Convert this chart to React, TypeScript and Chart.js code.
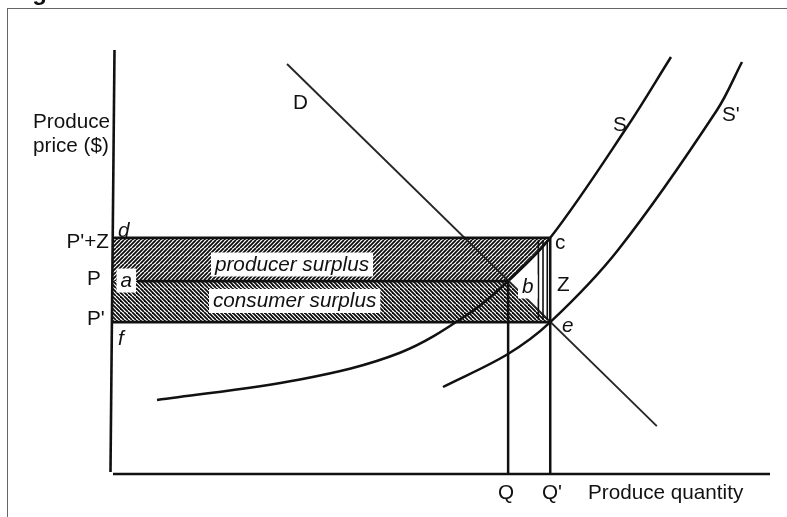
import React, { useEffect, useRef } from 'react';
import { Chart, registerables } from 'chart.js';

Chart.register(...registerables);

// ---- Data (abstract units: quantity 0..100 along the x-axis, price 0..100 along the y-axis) ----
const priceLevels = [55.7, 45.5, 35.8]; // P'+Z, P, P'
const quantityLevels = [60.2, 66.6]; // Q, Q'
const priceTickLabels = ["P'+Z", 'P', "P'"];
const quantityTickLabels = ['Q', "Q'"];

const demandD = [
  { x: 26.6, y: 96.7 },
  { x: 82.8, y: 11.3 },
];
const supplyS = [
  { x: 6.84, y: 17.45 },
  { x: 28.57, y: 22.3 },
  { x: 43.77, y: 28.6 },
  { x: 54.4, y: 38.0 },
  { x: 60.2, y: 45.5 },
  { x: 66.6, y: 55.7 },
  { x: 78.27, y: 81.84 },
  { x: 84.95, y: 98.35 },
];
const supplyS2 = [
  { x: 50.3, y: 20.52 },
  { x: 60.18, y: 28.3 },
  { x: 66.6, y: 35.8 },
  { x: 76.9, y: 52.83 },
  { x: 91.95, y: 85.85 },
  { x: 95.74, y: 97.17 },
];
const zStripQuantities = [64.8, 65.5, 66.15];
const priceAxisEnds = [
  { x: 0.38, y: 100 },
  { x: -0.23, y: 0.47 },
];
const quantityAxisEnds = [
  { x: 0.15, y: 0 },
  { x: 100, y: 0 },
];
const pLineStart = 3.8;

// ---- Text annotations (anchored in data units, alphabetic baseline) ----
const annotations = [
  { text: 'Produce', x: -12.0, y: 81.6 },
  { text: 'price ($)', x: -12.0, y: 75.83 },
  { text: priceTickLabels[0], x: -0.46, y: 53.3, align: 'right' },
  { text: priceTickLabels[1], x: -3.8, y: 44.58 },
  { text: priceTickLabels[2], x: -3.8, y: 35.14 },
  { text: 'd', x: 0.91, y: 55.9, italic: true },
  { text: 'a', x: 1.3, y: 44.1, italic: true, box: true },
  { text: 'f', x: 0.91, y: 30.42, italic: true },
  { text: 'c', x: 67.33, y: 53.07 },
  { text: 'b', x: 62.31, y: 42.69, italic: true, box: true },
  { text: 'Z', x: 67.63, y: 43.16 },
  { text: 'e', x: 68.39, y: 33.49, italic: true },
  { text: 'producer surplus', x: 15.65, y: 47.88, italic: true, box: true },
  { text: 'consumer surplus', x: 15.35, y: 39.27, italic: true, box: true },
  { text: 'S', x: 76.14, y: 80.9 },
  { text: "S'", x: 92.71, y: 83.25 },
  { text: 'D', x: 27.51, y: 86.08 },
  { text: quantityTickLabels[0], x: 58.66, y: -6.01 },
  { text: quantityTickLabels[1], x: 65.35, y: -6.01 },
  { text: 'Produce quantity', x: 72.34, y: -6.01 },
];

const FONT = '"Liberation Sans", Arial, Helvetica, sans-serif';

export default function App() {
  const ref = useRef<HTMLCanvasElement>(null);

  useEffect(() => {
    document.body.style.margin = '0';
    document.body.style.overflow = 'hidden';
    const canvas = ref.current!;
    const mainCtx = canvas.getContext('2d')!;

    const hatch = (dir: number) => {
      const t = document.createElement('canvas');
      t.width = 8;
      t.height = 8;
      const c = t.getContext('2d')!;
      c.fillStyle = '#ffffff';
      c.fillRect(0, 0, 8, 8);
      c.strokeStyle = '#0a0a0a';
      c.lineWidth = 1.75;
      for (let k = -16; k <= 16; k += 4) {
        c.beginPath();
        if (dir === 1) {
          c.moveTo(k, 8);
          c.lineTo(k + 8, 0);
        } else {
          c.moveTo(k, 0);
          c.lineTo(k + 8, 8);
        }
        c.stroke();
      }
      return mainCtx.createPattern(t, 'repeat')!;
    };

    const [pz, p, pp] = priceLevels;
    const [q, q2] = quantityLevels;

    const line = (data: any[], opts: any = {}) => ({
      data,
      showLine: true,
      pointRadius: 0,
      pointHoverRadius: 0,
      borderColor: '#111111',
      borderWidth: 2.5,
      tension: 0,
      fill: false,
      ...opts,
    });

    const datasets: any[] = [
      // upper hatched band (producer surplus)
      line([{ x: 0, y: pz }, { x: q2, y: pz }], { borderWidth: 0, fill: '+1', backgroundColor: hatch(1) }),
      line([{ x: 0, y: p }, { x: q, y: p }, { x: q2, y: pz }], { borderWidth: 0 }),
      // lower hatched band (consumer surplus)
      line([{ x: 0, y: p }, { x: q, y: p }, { x: q2, y: pp }], { borderWidth: 0, fill: '+1', backgroundColor: hatch(-1) }),
      line([{ x: 0, y: pp }, { x: q2, y: pp }], { borderWidth: 0 }),
      // axes
      line(priceAxisEnds, { borderWidth: 2.6 }),
      line(quantityAxisEnds, { borderWidth: 2.6 }),
      // rectangle edges and price lines
      line([{ x: 0, y: pz }, { x: q2, y: pz }], { borderWidth: 2.8 }),
      line([{ x: pLineStart, y: p }, { x: q, y: p }], { borderWidth: 2.8 }),
      line([{ x: 0, y: pp }, { x: q2, y: pp }], { borderWidth: 2.8 }),
      // quantity verticals
      line([{ x: q, y: p }, { x: q, y: 0 }], { borderWidth: 2.5 }),
      line([{ x: q2, y: pz }, { x: q2, y: 0 }], { borderWidth: 2.5 }),
      // Z strip
      ...zStripQuantities.map((zx) =>
        line([{ x: zx, y: pz - 0.6 }, { x: zx, y: pp + 0.6 }], { borderWidth: 1.6 })
      ),
      // curves
      line(demandD, { borderWidth: 1.9, borderColor: '#262626' }),
      line(supplyS, { tension: 0.35, borderWidth: 2.5 }),
      line(supplyS2, { tension: 0.35, borderWidth: 2.5 }),
    ];

    const labelPlugin = {
      id: 'diagramLabels',
      afterDatasetsDraw(chart: any) {
        const { ctx } = chart;
        const xs = chart.scales.x;
        const ys = chart.scales.y;
        ctx.save();
        ctx.textBaseline = 'alphabetic';
        for (const l of annotations as any[]) {
          const px = xs.getPixelForValue(l.x);
          const py = ys.getPixelForValue(l.y);
          ctx.font = `${l.italic ? 'italic ' : ''}20.7px ${FONT}`;
          ctx.textAlign = l.align || 'left';
          const w = ctx.measureText(l.text).width;
          if (l.box) {
            const left = l.align === 'right' ? px - w : px;
            ctx.fillStyle = '#ffffff';
            ctx.fillRect(left - 4, py - 18.5, w + 8, 24);
          }
          ctx.fillStyle = '#111111';
          ctx.fillText(l.text, px, py);
        }
        ctx.restore();
      },
    };

    const chart = new Chart(canvas, {
      type: 'scatter',
      data: { datasets },
      options: {
        responsive: false,
        animation: false,
        events: [],
        layout: { padding: 0 },
        plugins: {
          legend: { display: false },
          tooltip: { enabled: false },
          filler: { drawTime: 'beforeDatasetsDraw' },
        } as any,
        scales: {
          x: { type: 'linear', display: false, min: -17.02, max: 102.58 },
          y: { type: 'linear', display: false, min: -10.14, max: 111.79 },
        },
      },
      plugins: [labelPlugin],
    });

    return () => chart.destroy();
  }, []);

  return (
    <div style={{ position: 'relative', width: 787, height: 517, overflow: 'hidden', background: '#fff' }}>
      <canvas ref={ref} width={787} height={517} style={{ position: 'absolute', left: 0, top: 0, display: 'block' }} />
      <div
        style={{
          position: 'absolute',
          left: 7,
          top: 8,
          width: 790,
          height: 520,
          borderLeft: '1px solid #666',
          borderTop: '1px solid #666',
          pointerEvents: 'none',
        }}
      />
      <div
        style={{
          position: 'absolute',
          left: 11,
          top: -20,
          font: `bold 24px ${FONT}`,
          lineHeight: '24px',
          color: '#111',
          whiteSpace: 'nowrap',
        }}
      >
        Figure
      </div>
    </div>
  );
}
